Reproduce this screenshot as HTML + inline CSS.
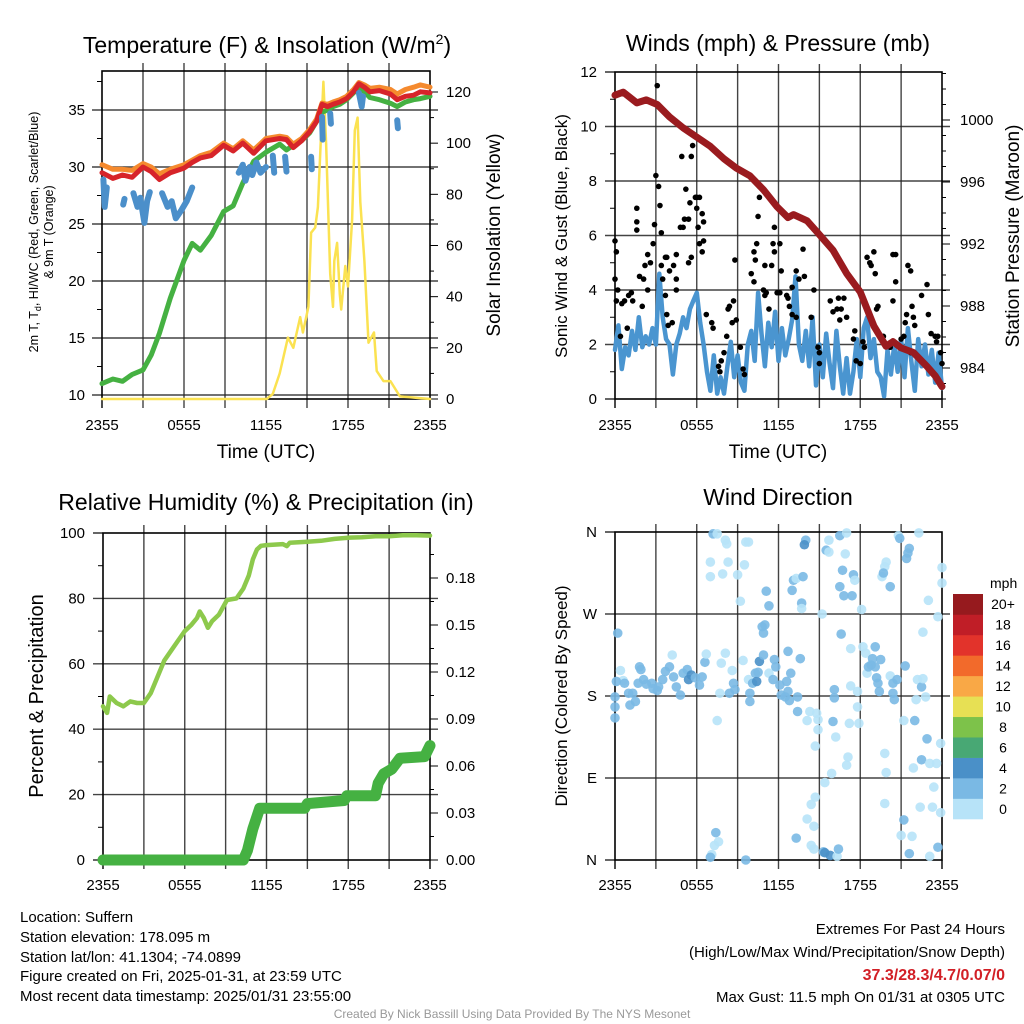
<!DOCTYPE html>
<html><head><meta charset="utf-8">
<style>
html,body{margin:0;padding:0;background:#fff;}
svg{display:block;font-family:"Liberation Sans",Arial,sans-serif;}
</style></head>
<body>
<svg id="fig" width="1024" height="1024" viewBox="0 0 1024 1024">
<rect x="0" y="0" width="1024" height="1024" fill="#fff"/>
<text x="267" y="53" font-size="23" text-anchor="middle">Temperature (F) &amp; Insolation (W/m<tspan font-size="14" dy="-9">2</tspan><tspan dy="9">)</tspan></text>
<text x="778" y="51" font-size="23" text-anchor="middle">Winds (mph) &amp; Pressure (mb)</text>
<text x="266" y="510" font-size="23" text-anchor="middle">Relative Humidity (%) &amp; Precipitation (in)</text>
<text x="778" y="505" font-size="23" text-anchor="middle">Wind Direction</text>
<text transform="translate(38,232) rotate(-90)" font-size="12.5" text-anchor="middle">2m T, T<tspan font-size="9" dy="3">d</tspan><tspan dy="-3">, HI/WC (Red, Green, Scarlet/Blue)</tspan></text>
<text transform="translate(53,232) rotate(-90)" font-size="12.5" text-anchor="middle">&amp; 9m T (Orange)</text>
<text transform="translate(500,235) rotate(-90)" font-size="19" text-anchor="middle">Solar Insolation (Yellow)</text>
<text transform="translate(567,236) rotate(-90)" font-size="17" text-anchor="middle">Sonic Wind &amp; Gust (Blue, Black)</text>
<text transform="translate(1019,236) rotate(-90)" font-size="19" text-anchor="middle">Station Pressure (Maroon)</text>
<text transform="translate(43,696) rotate(-90)" font-size="20" text-anchor="middle">Percent &amp; Precipitation</text>
<text transform="translate(567,696) rotate(-90)" font-size="17" text-anchor="middle">Direction (Colored By Speed)</text>
<text x="266" y="458" font-size="19" text-anchor="middle">Time (UTC)</text>
<text x="778" y="458" font-size="19" text-anchor="middle">Time (UTC)</text>
<g font-size="15">
<text x="20" y="922">Location: Suffern</text>
<text x="20" y="942">Station elevation: 178.095 m</text>
<text x="20" y="962">Station lat/lon: 41.1304; -74.0899</text>
<text x="20" y="981">Figure created on Fri, 2025-01-31, at 23:59 UTC</text>
<text x="20" y="1001">Most recent data timestamp: 2025/01/31 23:55:00</text>
</g>
<g font-size="15" text-anchor="end">
<text x="1005" y="934">Extremes For Past 24 Hours</text>
<text x="1005" y="957">(High/Low/Max Wind/Precipitation/Snow Depth)</text>
<text x="1005" y="980" fill="#d21f26" font-weight="bold" font-size="16">37.3/28.3/4.7/0.07/0</text>
<text x="1005" y="1002">Max Gust: 11.5 mph On 01/31 at 0305 UTC</text>
</g>
<text x="512" y="1018" font-size="12" fill="#999" text-anchor="middle">Created By Nick Bassill Using Data Provided By The NYS Mesonet</text>
<g id="layer"></g>
</svg>
<script>
// ---- time axis ----
const timeTickLabels = ["2355","0555","1155","1755","2355"];
// ---- panel 1: temperature ----
const tempHours = [0,0.8,1.5,2.2,3.0,3.6,4.2,5.0,6.0,6.6,7.2,8.0,8.9,9.6,10.3,11.1,12.0,13.0,13.5,14.0,14.6,15.2,15.7,16.1,16.5,16.9,17.4,17.9,18.4,18.8,19.2,19.6,20.3,21.1,21.6,22.2,22.8,23.3,24];
const tempRed = [29.5,29.0,29.3,29.1,30.0,29.6,28.9,29.5,29.9,30.4,30.8,31.0,31.9,31.4,32.1,31.2,32.3,32.5,32.4,31.7,32.3,33.1,34.0,35.5,35.3,35.5,35.7,36.0,36.6,37.3,37.0,36.6,36.7,36.4,35.9,36.2,36.3,36.6,36.5];
const tempOrange = [30.2,29.8,29.8,29.7,30.3,30.0,29.4,29.8,30.2,30.6,31.0,31.3,32.1,31.6,32.3,31.5,32.5,32.7,32.6,32.0,32.5,33.3,34.2,35.6,35.5,35.7,35.9,36.2,36.8,37.4,37.2,36.9,37.0,36.8,36.4,36.8,37.0,37.2,37.0];
const tempGreen = [11.0,11.4,11.2,11.8,12.2,13.5,15.4,18.5,21.8,23.3,22.7,24.0,26.1,26.6,28.6,30.5,31.3,32.0,31.5,31.9,32.3,33.0,34.0,34.8,35.0,35.3,35.5,35.9,36.5,37.0,36.6,36.1,35.9,35.6,35.3,35.7,35.9,36.0,36.2];
const chillHours = [0.1,0.2,0.35,null,1.55,1.65,null,2.3,2.6,2.8,3.1,3.3,3.5,null,4.4,4.8,5.1,5.4,5.8,6.2,6.6,null,10.0,10.3,10.5,10.8,11.0,11.3,11.6,12.0,null,12.5,12.6,null,13.4,13.5,null,15.3,15.35,null,16.1,16.15,null,16.7,16.75,null,18.8,19.0,19.1,null,21.6,21.65];
const chillVals = [28.9,26.5,28.2,null,26.7,27.2,null,27.7,26.5,27.3,25.1,27.0,27.8,null,27.7,26.5,27.0,25.5,26.2,27.0,28.2,null,29.5,30.2,28.8,30.0,29.3,30.4,29.5,30.0,null,31.0,29.5,null,30.9,29.6,null,30.9,29.8,null,34.4,32.4,null,34.7,33.8,null,36.5,35.3,36.2,null,34.1,33.4];
const solarHours = [0,12.05,12.5,13.0,13.6,14.0,14.5,14.7,15.1,15.3,15.6,15.8,16.1,16.2,16.4,16.7,16.9,17.0,17.2,17.4,17.5,17.8,18.0,18.3,18.5,18.7,18.9,19.2,19.5,19.9,20.1,20.6,21.1,21.8,24];
const solarVals = [0,0,2,10,24,20,32,26,36,65,67,75,112,124,100,49,36,54,61,41,35,52,44,70,105,110,77,54,22,26,11,7,7,1,0];
// ---- panel 2: winds & pressure ----
const windHours = [0,0.25,0.5,0.75,1,1.25,1.5,1.75,2,2.25,2.5,2.75,3,3.25,3.5,3.75,4,4.25,4.5,4.75,5,5.25,5.5,5.75,6,6.25,6.5,6.75,7,7.25,7.5,7.75,8,8.25,8.5,8.75,9,9.25,9.5,9.75,10,10.25,10.5,10.75,11,11.25,11.5,11.75,12,12.25,12.5,12.75,13,13.25,13.5,13.75,14,14.25,14.5,14.75,15,15.25,15.5,15.75,16,16.25,16.5,16.75,17,17.25,17.5,17.75,18,18.25,18.5,18.75,19,19.25,19.5,19.75,20,20.25,20.5,20.75,21,21.25,21.5,21.75,22,22.25,22.5,22.75,23,23.25,23.5,23.75,24];
const windVals = [1.8,2.7,1.1,1.9,1.6,2.5,1.8,3.0,1.9,2.3,2.0,2.6,2.0,4.6,3.0,2.2,2.0,0.9,2.0,2.4,3.0,2.6,3.3,3.6,3.9,2.8,2.0,1.0,0.3,1.6,0.2,0.8,0.2,1.2,2.1,0.8,1.6,0.6,0.3,2.0,2.5,1.4,3.9,2.4,1.2,2.8,1.9,3.2,1.4,2.6,1.6,2.2,2.9,4.5,2.0,1.4,2.5,1.2,3.0,0.5,2.0,0.8,2.4,1.3,0.4,2.5,1.2,0.2,1.5,0.2,1.0,2.2,0.8,2.6,3.0,1.5,2.2,1.0,0.8,0.1,1.8,0.9,2.0,1.0,2.2,0.8,2.6,1.4,0.3,2.2,1.2,2.0,0.9,1.8,0.6,1.7,0.4];
const pressHours = [0,0.6,1.6,2.3,3.1,4.0,5.0,6.0,7.0,8.0,8.9,9.9,10.9,11.9,12.7,13.1,14.1,14.9,16.0,17.0,18.0,19.0,19.9,20.4,21.0,21.9,22.9,23.5,24];
const pressVals = [1001.6,1001.8,1001.1,1001.3,1001.0,1000.2,999.5,998.9,998.3,997.5,996.9,996.4,995.5,994.4,993.7,993.9,993.5,992.7,991.6,990.1,988.9,986.7,985.4,985.7,985.3,985.0,984.1,983.5,982.8];
const gustHours = [0,0.1,0,0.2,0.1,0.5,0.7,1.0,1.2,1.3,0.4,0.9,1.6,1.6,1.6,1.8,2.0,2.1,2.2,2.4,2.4,2.6,2.8,2.9,3.0,3.1,3.2,3.3,3.4,3.4,3.7,3.5,3.8,3.7,3.8,3.9,4.2,4.0,4.3,4.5,4.5,4.5,4.8,4.9,5.0,5.1,5.2,5.4,5.5,5.6,5.7,5.9,6.0,6.0,6.1,6.2,6.4,6.5,6.4,6.2,6.5,5.6,5.4,6.7,7.1,7.2,8.2,8.3,8.4,8.7,8.8,8.9,8.6,9.2,9.4,9.5,8.0,7.8,7.7,7.6,10.2,10.3,10.4,10.0,10.2,10.6,10.8,10.6,10.5,10.9,11.0,11.1,11.0,11.3,11.6,11.5,11.7,11.7,11.9,12.1,12.2,12.1,12.6,12.7,12.8,13.0,13.0,13.3,13.5,13.3,13.8,13.9,14.6,14.4,14.9,15.0,15.0,15.8,16.0,16.3,16.4,16.8,16.5,16.6,17.0,17.6,17.5,18.2,18.3,17.7,18.0,18.5,18.7,18.8,19.0,19.1,19.2,19.3,19.7,20.4,20.6,20.6,20.4,21.0,21.2,21.3,21.4,21.5,21.7,21.8,21.9,22.0,22.5,22.9,23.0,23.2,23.5,23.6,23.7,23.9,24.0,20.2,21.7];
const gustVals = [5.8,5.4,4.4,4.0,3.6,3.5,3.6,3.8,3.9,3.6,2.3,2.6,7.0,6.5,6.2,4.5,3.4,4.4,4.9,5.3,4.0,5.0,5.7,6.4,8.2,11.5,7.8,7.1,6.1,4.9,5.2,4.4,5.2,3.8,3.1,2.7,2.8,4.7,4.9,5.3,4.4,4.0,6.3,8.9,6.3,6.6,7.7,6.6,7.2,8.9,9.3,7.4,7.4,7.0,6.3,7.4,6.8,6.5,5.4,5.7,5.8,5.2,5.0,3.1,2.8,2.6,2.3,3.3,3.4,3.6,5.1,2.9,2.8,1.9,1.1,0.9,1.7,1.4,1.0,1.2,5.4,5.1,5.7,4.6,4.3,7.8,7.7,7.4,6.7,4.0,3.8,3.9,4.9,3.3,5.7,4.9,6.3,5.4,3.9,3.9,4.7,5.7,3.8,3.7,3.4,3.1,4.1,4.7,4.4,3.0,5.5,4.5,4.0,3.0,1.9,1.7,1.3,3.6,3.2,3.3,3.7,3.7,2.9,3.3,3.0,2.5,2.2,2.1,1.9,1.4,1.3,5.2,5.0,4.9,5.4,4.6,3.3,3.4,2.3,5.3,5.3,4.3,3.6,2.2,2.3,2.8,3.1,4.9,4.7,3.4,3.0,2.7,3.8,4.2,3.1,2.4,2.3,2.1,2.3,1.7,1.3,1.9,1.7];
// ---- panel 3: humidity & precipitation ----
const rhHours = [0,0.3,0.5,1,1.5,2,2.5,3,3.5,4,4.5,5,5.5,6,6.5,6.9,7.1,7.4,7.7,8,8.5,9.1,9.8,10.3,10.7,11,11.3,11.6,12,13.2,13.5,13.7,15,16,17,18.1,19,20,21,22,23,24];
const rhVals = [47,45,50,48,47,48.5,48,48,51,56,61,64,67,70,72,74,76,74,71,73,75,79.5,80,83,87,92,95,96.1,96.3,96.6,96,97,97.3,97.6,98.2,98.6,98.7,99,99,99.3,99.3,99.2];
const precipHours = [0,10.3,10.6,11.0,11.5,14.8,15.0,17.7,17.9,20.0,20.2,20.6,21.2,21.8,23.6,24];
const precipVals = [0,0,0.006,0.02,0.033,0.033,0.036,0.038,0.041,0.041,0.049,0.055,0.058,0.065,0.066,0.073];
// ---- panel 4: wind direction ----
const dirTickLabels = ["N","E","S","W","N"];
const speedBinLabels = ["0","2","4","6","8","10","12","14","16","18","20+"];
const speedBinColors = ["#b7e3f8","#7ab9e4","#4a90c8","#48a874","#7dc24a","#e7e054","#f9a846","#f26a2b","#e2332b","#c01e27","#961a1e"];
const dirHours = [0.2,0.4,0.6,0.1,0.7,0,0,0,1,1.3,1.5,1.1,1.8,1.9,1.7,2.1,2.3,2.7,2.8,3.1,3.2,3.5,3.7,4.0,4.2,4.3,4.5,4.8,5.0,5.3,5.4,5.6,5.9,6.2,6.4,6.6,6.7,7.0,7.0,7.2,7.5,7.8,7.9,8.1,8.2,8.1,8.3,7.7,7.5,8.6,8.4,8.7,8.8,9.0,9.2,9.4,9.5,9.6,9.8,9.8,9.9,9.9,10.1,10.3,10.4,10.5,10.6,10.9,10.8,10.9,11.0,11.1,11.3,11.3,11.6,11.7,11.8,12.1,12.2,12.5,12.6,12.7,12.7,12.9,12.8,13.0,13.1,13.3,13.4,13.6,13.4,13.7,13.7,13.8,14.0,13.9,14.1,14.3,14.8,14.9,14.9,14.7,15.2,15.5,15.7,15.7,16.0,16.1,16.1,16.2,16.5,16.5,16.6,16.7,16.8,16.9,17.0,17.1,17.0,17.2,17.3,17.3,17.4,17.5,17.6,17.8,17.8,17.9,18.1,18.2,18.4,18.5,18.6,18.8,18.9,19.1,19.1,19.2,19.3,19.4,19.5,19.8,19.9,19.6,19.7,19.8,19.9,20.2,20.2,20.4,20.4,20.5,20.7,20.8,20.9,21.2,21.3,21.2,21.4,21.5,21.6,21.9,22.0,22.1,22.2,22.3,22.5,22.6,22.6,22.8,22.9,23.0,22.5,23.1,23.4,23.6,23.7,23.9,23.9,24,24,22.4,23.3,21.8,21.0,21.6,23.1,23.7,19.8,15.4,15.9,14.7,14.4,14.1,14.6,13.3,14.4,14.6,15.3,15.4,15.8,16.3,16.4,7.4,7.6,7.3,7.1,7.0,9.6];
const dirDegs = [249,208,197,196,194,179,168,156,183,183,174,170,212,209,194,198,193,194,188,186,190,198,207,212,225,201,190,181,205,209,198,203,200,192,201,217,226,327,311,358,358,216,314,351,347,227,327,183,153,208,183,194,187,313,284,219,324,349,349,198,183,174,194,205,196,206,218,225,256,249,258,295,279,205,198,220,212,192,181,179,196,229,185,205,175,296,307,309,179,221,163,282,276,311,351,346,153,163,161,154,143,125,270,340,351,338,152,178,187,135,356,300,248,318,290,336,359,113,104,150,232,191,290,313,307,185,168,150,275,234,227,205,212,214,221,234,212,200,194,185,220,322,327,311,315,117,96,300,202,194,183,176,198,356,353,44,213,153,331,337,342,101,153,176,198,359,190,199,250,179,133,285,110,106,80,106,267,52,128,321,304,58,58,26,27,7,4,14,62,85,95,69,61,45,37,24,16,12,9,8,5,4,12,30,20,16,6,3,0];
const dirSpeeds = [3,1.5,1.5,3,3,3,3,3,3,3,3,3,3,3,3,3,3,3,3,3.5,3,3,3,3,1.5,3,3,3,3,3,4.5,4.5,3,3,3,3,1.5,1.5,1.5,3,1.5,1.5,1.5,1.5,1.5,1.5,1.5,1.5,1.5,1.5,3,3,3,1.5,1.5,1.5,1.5,1.5,1.5,1.5,3,3,3,3,4.5,3,4.5,3,3,3,3,3,3,1.5,3,3,3,3,3,3,3,3,3,3,3,3,3,1.5,3,3,3,3,1.5,3,3,4.5,1.5,1.5,1.5,1.5,1.5,1.5,1.5,3,1.5,1.5,3,3,3,1.5,3,3,3,3,3,1.5,1.5,1.5,1.5,1.5,1.5,1.5,3,3,1.5,1.5,1.5,1.5,1.5,1.5,1.5,1.5,3,3,3,3,3,3,3,3,3,1.5,1.5,1.5,3,1.5,1.5,3,1.5,3,3,3,3,1.5,3,3,3,1.5,3,3,3,1.5,3,1.5,1.5,1.5,3,1.5,1.5,1.5,3,1.5,3,1.5,1.5,1.5,1.5,1.5,1.5,1.5,1.5,1.5,1.5,1.5,1.5,3,1.5,3,1.5,1.5,1.5,1.5,1.5,1.5,1.5,3,1.5,1.5,3,4.5,4.5,1.5,3,3,1.5,1.5,1.5,3,3,1.5];

const NS = "http://www.w3.org/2000/svg";
const layer = document.getElementById("layer");
function mk(tag, attrs, parent){
  const e = document.createElementNS(NS, tag);
  for (const k in attrs) e.setAttribute(k, attrs[k]);
  (parent||layer).appendChild(e);
  return e;
}
function makePanel(x0, x1, y0, y1){
  return {x0,x1,y0,y1, sx: h => x0 + (x1-x0)*h/24};
}
function lin(d0,d1,p0,p1){ return v => p0 + (v-d0)*(p1-p0)/(d1-d0); }
function gridAndFrame(P, hYs, name){
  const g = mk("g", {});
  
  
  for (let i=1;i<8;i++){
    const x = P.sx(i*3);
    mk("line",{x1:x,y1:P.y0-8,x2:x,y2:P.y1+9,stroke:"#222","stroke-width":1.4,"stroke-opacity":0.85},g);
  }
  [0,8].forEach(i=>{ const x=P.sx(i*3); mk("line",{x1:x,y1:P.y1,x2:x,y2:P.y1+9,stroke:"#000","stroke-width":1.4},g); });
  hYs.forEach(y=>mk("line",{x1:P.x0-10,y1:y,x2:P.x1+8,y2:y,stroke:"#222","stroke-width":1.4,"stroke-opacity":0.85},g));
  const f = mk("rect",{x:P.x0,y:P.y0,width:P.x1-P.x0,height:P.y1-P.y0,fill:"none",stroke:"#000","stroke-width":1.6});
  
  
}
function leftTicks(P, vals, fy){
  vals.forEach(v=>mk("line",{x1:P.x0-10,y1:fy(v),x2:P.x0,y2:fy(v),stroke:"#000","stroke-width":1.2}));
}
function leftMinor(P, vals, fy){
  vals.forEach(v=>mk("line",{x1:P.x0-5,y1:fy(v),x2:P.x0,y2:fy(v),stroke:"#000","stroke-width":1}));
}
function timeTicks(P, y, name){
  timeTickLabels.forEach((lab,i)=>{
    const t = mk("text",{x:P.sx(i*6),y:y,"font-size":15,"text-anchor":"middle"});
    t.textContent = lab;
    
    
  });
}
function yTicks(vals, fy, x, anchor, fmt, name){
  vals.forEach(v=>{
    const y = fy(v);
    const t = mk("text",{x:x,y:y+5,"font-size":15,"text-anchor":anchor});
    t.textContent = fmt(v);
    
    
  });
}
function pathFrom(hs, vs, sx, fy){
  let d = "", pen = false;
  for (let i=0;i<hs.length;i++){
    if (hs[i]===null || vs[i]===null){ pen=false; continue; }
    d += (pen?"L":"M") + sx(hs[i]).toFixed(1) + "," + fy(vs[i]).toFixed(1);
    pen = true;
  }
  return d;
}
function line(hs, vs, sx, fy, color, w, name){
  const p = mk("path",{d:pathFrom(hs,vs,sx,fy),fill:"none",stroke:color,"stroke-width":w,"stroke-linejoin":"round","stroke-linecap":"round"});
  
  
  return p;
}

// ===== Panel 1 =====
const P1 = makePanel(102, 430, 71, 399);
const fT = lin(10, 35, 395, 110);
const fS = lin(0, 120, 399, 92);
gridAndFrame(P1, [10,15,20,25,30,35].map(fT), "temperature");
leftMinor(P1, [12.5,17.5,22.5,27.5,32.5,37.5], fT);
for (let v=0; v<=125; v+=10){ mk("line",{x1:430,y1:fS(v),x2:v%20===0?438:434,y2:fS(v),stroke:"#000","stroke-width":1}); }
timeTicks(P1, 430, "temperature");
yTicks([10,15,20,25,30,35], fT, 85, "end", v=>String(v), "temperature-y");
yTicks([0,20,40,60,80,100,120], fS, 446, "start", v=>String(v), "insolation-y");
line(solarHours, solarVals, P1.sx, fS, "#fbe251", 2.5, "insolation-line");
line(tempHours, tempGreen, P1.sx, fT, "#45b142", 5, "dewpoint-line");
line(tempHours, tempOrange, P1.sx, fT, "#f58a2e", 5, "temperature-9m-line");
line(tempHours, tempRed, P1.sx, fT, "#d7242a", 5, "temperature-2m-line");
line(chillHours, chillVals, P1.sx, fT, "#4b8fca", 6, "wind-chill-line");

// ===== Panel 2 =====
const P2 = makePanel(615, 942, 72, 399);
const fW = lin(0, 12, 399, 72);
const fP = lin(984, 1000, 368, 120);
gridAndFrame(P2, [2,4,6,8,10].map(fW), "winds");
leftTicks(P2, [0,12], fW);
leftMinor(P2, [1,3,5,7,9,11], fW);
for (let v=982; v<=1003; v+=1){ mk("line",{x1:942,y1:fP(v),x2:v%4===0?950:946,y2:fP(v),stroke:"#000","stroke-width":1}); }
timeTicks(P2, 430, "winds");
yTicks([0,2,4,6,8,10,12], fW, 597, "end", v=>String(v), "wind-y");
yTicks([984,988,992,996,1000], fP, 960, "start", v=>String(v), "pressure-y");
line(windHours, windVals, P2.sx, fW, "#4a95d0", 4.5, "sonic-wind-line");
gustHours.forEach((h,i)=>{
  const c = mk("circle",{cx:P2.sx(h),cy:fW(gustVals[i]),r:2.8,fill:"#000"});
  
  
});
line(pressHours, pressVals, P2.sx, fP, "#9a1b1f", 7, "pressure-line");

// ===== Panel 3 =====
const P3 = makePanel(103, 430, 533, 860);
const fR = lin(0, 100, 860, 533);
const fPr = lin(0, 0.03, 860, 813);
gridAndFrame(P3, [20,40,60,80].map(fR), "humidity");
leftTicks(P3, [0,100], fR);
leftMinor(P3, [10,30,50,70,90], fR);
for (let v=0; v<=0.2; v+=0.015){ mk("line",{x1:430,y1:fPr(v),x2:(Math.round(v/0.015)%2===0)?438:434,y2:fPr(v),stroke:"#000","stroke-width":1}); }
timeTicks(P3, 890, "humidity");
yTicks([0,20,40,60,80,100], fR, 85, "end", v=>String(v), "humidity-y");
yTicks([0,0.03,0.06,0.09,0.12,0.15,0.18], fPr, 446, "start", v=>v.toFixed(2), "precip-y");
line(rhHours, rhVals, P3.sx, fR, "#8dc94c", 4.5, "relative-humidity-line");
line(precipHours, precipVals, P3.sx, fPr, "#45b142", 11, "precipitation-line");

// ===== Panel 4 =====
const P4 = makePanel(615, 942, 532, 860);
const fD = lin(0, 360, 860, 532);
gridAndFrame(P4, [90,180,270].map(fD), "direction");
leftTicks(P4, [0,360], fD);
timeTicks(P4, 890, "direction");
yTicks([0,90,180,270,360], fD, 597, "end", v=>dirTickLabels[v/90], "direction-y");
dirHours.forEach((h,i)=>{
  const bin = Math.min(10, Math.floor(dirSpeeds[i]/2));
  const c = mk("circle",{cx:P4.sx(h),cy:fD(dirDegs[i]),r:4.8,fill:speedBinColors[bin],"fill-opacity":0.9});
  
  
});
// colorbar
const cbTop = 594, cbBot = 819, cbH = (cbBot-cbTop)/11;
const mph = mk("text",{x:990,y:588,"font-size":14});
mph.textContent = "mph";


speedBinLabels.forEach((lab,i)=>{
  const y = cbBot - (i+1)*cbH;
  const r = mk("rect",{x:953,y:y,width:30,height:cbH+0.3,fill:speedBinColors[i]});
  
  
  const t = mk("text",{x:1003,y:y+cbH/2+5,"font-size":14,"text-anchor":"middle"});
  t.textContent = lab;
  
  
});
</script>
</body></html>
